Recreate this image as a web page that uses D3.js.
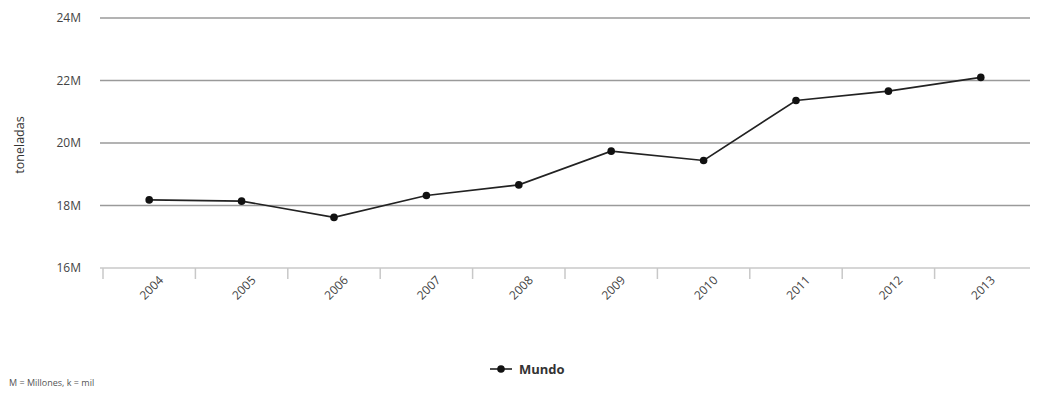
<!DOCTYPE html>
<html>
<head>
<meta charset="utf-8">
<script src="https://cdn.jsdelivr.net/npm/d3@7"></script>
<style>
  html, body { margin: 0; padding: 0; background: #fff; }
  svg { display: block; font-family: "Open Sans", "DejaVu Sans", sans-serif; }
</style>
</head>
<body>
<svg id="chart" width="1042" height="396"></svg>
<script>
// Producción mundial (toneladas), 2004–2013
const years = ["2004", "2005", "2006", "2007", "2008", "2009", "2010", "2011", "2012", "2013"];
const mundo = [18.18e6, 18.14e6, 17.62e6, 18.32e6, 18.66e6, 19.74e6, 19.44e6, 21.36e6, 21.66e6, 22.1e6];
const yTicks = [16e6, 18e6, 20e6, 22e6, 24e6];
const seriesName = "Mundo";
const footnote = "M = Millones, k = mil";
const yTitle = "toneladas";

const svg = d3.select("#chart");

const x = d3.scaleBand().domain(years).range([103, 1027]);
const y = d3.scaleLinear().domain([16e6, 24e6]).range([268, 18]);

const fmt = v => d3.format(".0f")(v / 1e6) + "M";

// gridlines
svg.append("g")
  .selectAll("line")
  .data(yTicks.filter(t => t > 16e6))
  .join("line")
  .attr("x1", 100).attr("x2", 1030)
  .attr("y1", d => y(d)).attr("y2", d => y(d))
  .attr("stroke", "#9a9a9a")
  .attr("stroke-width", 1.6);

// y tick labels
svg.append("g")
  .selectAll("text")
  .data(yTicks)
  .join("text")
  .attr("x", 81)
  .attr("y", d => y(d))
  .attr("dy", "0.35em")
  .attr("text-anchor", "end")
  .attr("font-size", 12)
  .attr("fill", "#444")
  .text(fmt);

// x axis
const xAxis = svg.append("g")
  .attr("transform", `translate(0,${y(16e6)})`)
  .call(d3.axisBottom(x).tickSize(0).tickFormat(""));
xAxis.select(".domain").attr("stroke", "#c8c8c8").attr("stroke-width", 1.5).attr("d", "M100,0H1030");

// band boundary ticks
svg.append("g")
  .selectAll("line")
  .data(years)
  .join("line")
  .attr("x1", d => x(d)).attr("x2", d => x(d))
  .attr("y1", y(16e6)).attr("y2", y(16e6) + 11)
  .attr("stroke", "#c8c8c8")
  .attr("stroke-width", 1.5);

// x labels rotated
svg.append("g")
  .selectAll("text")
  .data(years)
  .join("text")
  .attr("transform", d => `translate(${x(d) + x.bandwidth() / 2 + 12},${y(16e6) + 10}) rotate(-45)`)
  .attr("text-anchor", "end")
  .attr("dy", "0.35em")
  .attr("font-size", 12)
  .attr("fill", "#444")
  .text(d => d);

// y title
svg.append("text")
  .attr("transform", `translate(24,${y(20e6) + 2}) rotate(-90)`)
  .attr("text-anchor", "middle")
  .attr("font-size", 12.5)
  .attr("fill", "#333")
  .text(yTitle);

// line
const line = d3.line()
  .x((d, i) => x(years[i]) + x.bandwidth() / 2)
  .y(d => y(d));

svg.append("path")
  .datum(mundo)
  .attr("fill", "none")
  .attr("stroke", "#222")
  .attr("stroke-width", 1.6)
  .attr("d", line);

svg.append("g")
  .selectAll("circle")
  .data(mundo)
  .join("circle")
  .attr("cx", (d, i) => x(years[i]) + x.bandwidth() / 2)
  .attr("cy", d => y(d))
  .attr("r", 3.8)
  .attr("fill", "#111");

// legend
const lg = svg.append("g").attr("transform", "translate(490,369)");
lg.append("line").attr("x1", 0).attr("x2", 22).attr("stroke", "#222").attr("stroke-width", 1.6);
lg.append("circle").attr("cx", 11).attr("r", 3.8).attr("fill", "#111");
lg.append("text")
  .attr("x", 29).attr("dy", "0.35em")
  .attr("font-size", 13)
  .attr("font-weight", "bold")
  .attr("fill", "#333")
  .text(seriesName);

// footnote
svg.append("text")
  .attr("x", 9).attr("y", 386)
  .attr("font-size", 9)
  .attr("fill", "#555")
  .text(footnote);
</script>
</body>
</html>
